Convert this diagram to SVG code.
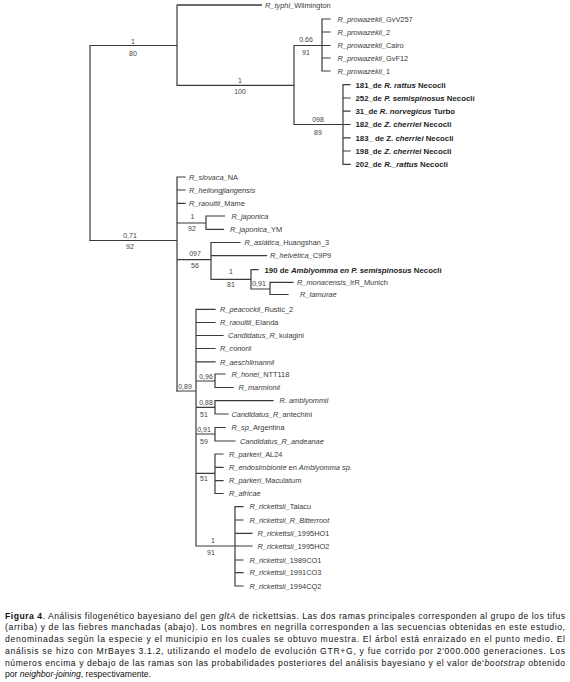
<svg xmlns="http://www.w3.org/2000/svg" width="570" height="682" viewBox="0 0 570 682">
<style>
.br{stroke:#3a3a3a;stroke-width:1.2;fill:none;stroke-linecap:square}
text{font-family:"Liberation Sans",Arial,sans-serif}
.lf{font-size:7.4px;fill:#3a3a3a}
.it{font-style:italic}
.bd{font-weight:bold;fill:#1e1e1e;font-size:7.8px}
.sp{font-size:7px;fill:#444;text-anchor:middle}
.cap{font-size:8.6px;fill:#111}
</style>
<rect width="570" height="682" fill="#fff"/>
<g id="connectors">
<path class="br" d="M90,45.5V240.5M90,45.5H177M177,5V85.3M177,85.3H294M294,45.5V124.5M294,45.5H322M322,19V71M322,19H330M322,32H330M322,45.5H330M322,58H330M322,71H330M294,124.5H343M343,84.7V164.3M343,84.7H350M343,98H350M343,111.2H350M343,124.5H350M343,137.8H350M343,151H350M343,164.3H350"/>
<path d="M177,5H262" stroke="#6a6a6a" stroke-width="1.8" fill="none"/>
<path class="br" d="M90,240.5H177M177,177V391M177,177H185M177,190H185M177,203.3H185M177,223H206M206,216V229.3M206,216H224.5M206,229.3H223.5M177,259.7H211M211,242.5V279.3M211,242.5H240M211,255.7H266.5M211,279.3H251M251,269.7V289M251,269.7H258M251,289H270M270,282.3V294.5M270,282.3H293M270,294.5H288"/>
<path class="br" d="M177,391H196M196,309.3V546M196,309.3H215M196,322.5H215M196,335.5H223M196,348.5H215M196,361.8H215M196,381H215M215,374V387.5M215,374H225M215,387.5H233M196,407.3H215M215,400.7V414M215,400.7H273M215,414H228M196,434H215M215,427.5V441M215,427.5H225M215,441H235M196,473.3H215M215,454V493.5M215,454H223M215,467.3H223M215,480.7H223M215,493.5H223M196,546H235M235,506.7V586M235,506.7H243M235,520H243M235,533.3H252M235,546H252M235,560H243M235,572.7H243M235,586H243"/>
</g>
<g id="support">
<g id="n_typhus"><text class="sp" x="133" y="43.5">1</text><text class="sp" x="133" y="55.5">80</text></g>
<g id="n_typhus2"><text class="sp" x="240" y="82.5">1</text><text class="sp" x="240" y="94">100</text></g>
<g id="n_prowazekii"><text class="sp" x="306" y="42">0.66</text><text class="sp" x="306" y="55">91</text></g>
<g id="n_colombia"><text class="sp" x="318" y="122">098</text><text class="sp" x="318" y="134.5">89</text></g>
<g id="n_spotted"><text class="sp" x="130" y="237.5">0,71</text><text class="sp" x="130" y="249">92</text></g>
<g id="n_japonica"><text class="sp" x="192.5" y="219">1</text><text class="sp" x="192" y="230.5">92</text></g>
<g id="n_helvetica"><text class="sp" x="195" y="256">097</text><text class="sp" x="195" y="268">56</text></g>
<g id="n_amblyomma"><text class="sp" x="231" y="273.5">1</text><text class="sp" x="231" y="287">81</text></g>
<g id="n_monacensis"><text class="sp" x="259" y="285.5">0,91</text></g>
<g id="n_sfg"><text class="sp" x="185" y="389">0,89</text></g>
<g id="n_honei"><text class="sp" x="206" y="378.5">0,96</text></g>
<g id="n_amblyommii"><text class="sp" x="206" y="404.5">0,88</text><text class="sp" x="204" y="417">51</text></g>
<g id="n_argentina"><text class="sp" x="204" y="431.5">0,91</text><text class="sp" x="204" y="444">59</text></g>
<g id="n_parkeri"><text class="sp" x="204" y="481">51</text></g>
<g id="n_rickettsii"><text class="sp" x="213" y="543">1</text><text class="sp" x="211" y="554.5">91</text></g>
</g>
<g id="leaf_typhi"><text class="lf" x="265" y="7.7"><tspan class="it">R_typhi_</tspan>Wilmington</text></g>
<g id="leaf_prow1"><text class="lf" x="337.5" y="21.7"><tspan class="it">R_prowazekii_</tspan>GvV257</text></g>
<g id="leaf_prow2"><text class="lf" x="337.5" y="34.7"><tspan class="it">R_prowazekii_</tspan>2</text></g>
<g id="leaf_prow3"><text class="lf" x="337.5" y="48.2"><tspan class="it">R_prowazekii_</tspan>Cairo</text></g>
<g id="leaf_prow4"><text class="lf" x="337.5" y="60.7"><tspan class="it">R_prowazekii_</tspan>GvF12</text></g>
<g id="leaf_prow5"><text class="lf" x="337.5" y="73.7"><tspan class="it">R_prowazekii_</tspan>1</text></g>
<g id="leaf_181"><text class="lf bd" x="355.5" y="87.5">181_de <tspan class="it">R. rattus</tspan> Necocli</text></g>
<g id="leaf_252"><text class="lf bd" x="355.5" y="100.8">252_de <tspan class="it">P. semispinosus</tspan> Necoclí</text></g>
<g id="leaf_31"><text class="lf bd" x="355.5" y="114">31_de <tspan class="it">R. norvegicus</tspan> Turbo</text></g>
<g id="leaf_182"><text class="lf bd" x="355.5" y="127.3">182_de <tspan class="it">Z. cherriei</tspan> Necocli</text></g>
<g id="leaf_183"><text class="lf bd" x="355.5" y="140.6">183_ de Z. <tspan class="it">cherriei</tspan> Necocli</text></g>
<g id="leaf_198"><text class="lf bd" x="355.5" y="153.8">198_de <tspan class="it">Z. cherriei</tspan> Necocli</text></g>
<g id="leaf_202"><text class="lf bd" x="355.5" y="167.1">202_de <tspan class="it">R._rattus</tspan> Necocli</text></g>
<g id="leaf_slovaca"><text class="lf" x="189" y="179.7"><tspan class="it">R_slovaca_</tspan>NA</text></g>
<g id="leaf_heilong"><text class="lf it" x="189" y="192.7">R_heilongjiangensis</text></g>
<g id="leaf_mame"><text class="lf" x="189" y="206"><tspan class="it">R_raoultii_</tspan>Mame</text></g>
<g id="leaf_japonica"><text class="lf it" x="231.5" y="218.7">R_japonica</text></g>
<g id="leaf_japonicaYM"><text class="lf" x="230" y="232"><tspan class="it">R_japonica_</tspan>YM</text></g>
<g id="leaf_asiatica"><text class="lf" x="244.5" y="245.2"><tspan class="it">R_asiática_</tspan>Huangshan_3</text></g>
<g id="leaf_helvetica"><text class="lf" x="270" y="258.4"><tspan class="it">R_helvética_</tspan>C9P9</text></g>
<g id="leaf_190"><text class="lf bd" x="264.5" y="272.5">190 de <tspan class="it">Amblyomma en P. semispinosus</tspan> Necoclí</text></g>
<g id="leaf_monacensis"><text class="lf" x="297" y="285"><tspan class="it">R_monacensis_</tspan>IrR_Munich</text></g>
<g id="leaf_tamurae"><text class="lf it" x="300" y="297.2">R_tamurae</text></g>
<g id="leaf_peacockii"><text class="lf" x="220" y="312"><tspan class="it">R_peacockii_</tspan>Rustic_2</text></g>
<g id="leaf_elanda"><text class="lf" x="220" y="325.2"><tspan class="it">R_raoultii_</tspan>Elanda</text></g>
<g id="leaf_kulagini"><text class="lf" x="228" y="338.2"><tspan class="it">Candidatus_R_</tspan>kulagini</text></g>
<g id="leaf_conorii"><text class="lf it" x="220" y="351.2">R_conorii</text></g>
<g id="leaf_aeschlimannii"><text class="lf it" x="220" y="364.5">R_aeschlimannii</text></g>
<g id="leaf_honei"><text class="lf" x="231.5" y="376.7"><tspan class="it">R_honei_</tspan>NTT118</text></g>
<g id="leaf_marmionii"><text class="lf it" x="238.5" y="390.2">R_marmionii</text></g>
<g id="leaf_amblyommii"><text class="lf it" x="279.5" y="403.4">R. amblyommii</text></g>
<g id="leaf_antechini"><text class="lf" x="231.5" y="416.7"><tspan class="it">Candidatus_R_</tspan>antechini</text></g>
<g id="leaf_argentina"><text class="lf" x="231.5" y="430.2"><tspan class="it">R_sp_</tspan>Argentina</text></g>
<g id="leaf_andeanae"><text class="lf it" x="240" y="443.7">Candidatus_R_andeanae</text></g>
<g id="leaf_al24"><text class="lf" x="229" y="456.7"><tspan class="it">R_parkeri_</tspan>AL24</text></g>
<g id="leaf_endosimbionte"><text class="lf" x="229" y="470"><tspan class="it">R_endosimbionte</tspan> en <tspan class="it">Amblyomma sp.</tspan></text></g>
<g id="leaf_maculatum"><text class="lf" x="229" y="483.4"><tspan class="it">R_parkeri_</tspan>Maculatum</text></g>
<g id="leaf_africae"><text class="lf it" x="229" y="496.2">R_africae</text></g>
<g id="leaf_taiacu"><text class="lf" x="249.5" y="509.4"><tspan class="it">R_rickettsii_</tspan>Taiacu</text></g>
<g id="leaf_bitterroot"><text class="lf it" x="249.5" y="522.7">R_rickettsii_R_Bitterroot</text></g>
<g id="leaf_1995HO1"><text class="lf" x="257.5" y="536"><tspan class="it">R_rickettsii_</tspan>1995HO1</text></g>
<g id="leaf_1995HO2"><text class="lf" x="257.5" y="548.7"><tspan class="it">R_rickettsii_</tspan>1995HO2</text></g>
<g id="leaf_1989CO1"><text class="lf" x="249.5" y="562.7"><tspan class="it">R_rickettsii_</tspan>1989CO1</text></g>
<g id="leaf_1991CO3"><text class="lf" x="249.5" y="575.4"><tspan class="it">R_rickettsii_</tspan>1991CO3</text></g>
<g id="leaf_1994CQ2"><text class="lf" x="249.5" y="588.7"><tspan class="it">R_rickettsii_</tspan>1994CQ2</text></g>
<g id="caption">
<text class="cap" x="5" y="618.7" textLength="560" lengthAdjust="spacing"><tspan font-weight="bold">Figura 4</tspan>. Análisis filogenético bayesiano del gen <tspan class="it">gltA</tspan> de rickettsias. Las dos ramas principales corresponden al grupo de los tifus</text>
<text class="cap" x="5" y="630.4" textLength="560" lengthAdjust="spacing">(arriba) y de las fiebres manchadas (abajo). Los nombres en negrilla corresponden a las secuencias obtenidas en este estudio,</text>
<text class="cap" x="5" y="642.1" textLength="560" lengthAdjust="spacing">denominadas según la especie y el municipio en los cuales se obtuvo muestra. El árbol está enraizado en el punto medio. El</text>
<text class="cap" x="5" y="653.8" textLength="560" lengthAdjust="spacing">análisis se hizo con MrBayes 3.1.2, utilizando el modelo de evolución GTR+G, y fue corrido por 2'000.000 generaciones. Los</text>
<text class="cap" x="5" y="665.5" textLength="560" lengthAdjust="spacing">números encima y debajo de las ramas son las probabilidades posteriores del análisis bayesiano y el valor de‘<tspan class="it">bootstrap</tspan> obtenido</text>
<text class="cap" x="5" y="677.2">por <tspan class="it">neighbor-joining</tspan>, respectivamente.</text>
</g>
</svg>
